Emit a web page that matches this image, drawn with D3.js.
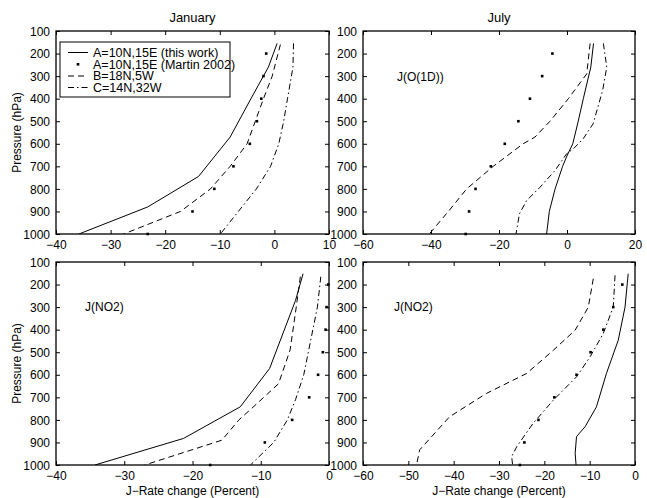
<!DOCTYPE html>
<html>
<head>
<meta charset="utf-8">
<script src="https://cdn.jsdelivr.net/npm/d3@7"></script>
<style>
  html, body { margin: 0; padding: 0; background: #fff; }
  svg { display: block; font-family: "Liberation Sans", Arial, Helvetica, sans-serif; }
</style>
</head>
<body>
<svg id="chart" width="647" height="498"></svg>
<script>
// ---------------- DATA ----------------
const seriesNames = ["A=10N,15E (this work)", "A=10N,15E (Martin 2002)", "B=18N,5W", "C=14N,32W"];
const dotPressure = [200, 300, 400, 500, 600, 700, 800, 900, 1000];
const yTicks = [100, 200, 300, 400, 500, 600, 700, 800, 900, 1000];

// January J(O1D)
const janO1D_A_p = [155, 260, 400, 570, 745, 880, 1000];
const janO1D_A_v = [0.5, -1.1, -4.3, -8.1, -13.9, -23.2, -35.8];
const janO1D_B_p = [160, 300, 400, 500, 600, 700, 800, 900, 1000];
const janO1D_B_v = [1.1, -0.4, -2.0, -3.5, -5.0, -8.1, -11.7, -17.2, -27.6];
const janO1D_C_p = [155, 260, 400, 500, 600, 700, 800, 900, 1000];
const janO1D_C_v = [3.5, 3.4, 2.4, 1.7, 0.8, -0.7, -3.3, -6.6, -9.9];
const janO1D_dots = [-1.5, -2.0, -2.4, -3.2, -4.5, -7.5, -11.0, -15.0, -23.2];

// July J(O1D)
const julO1D_A_p = [155, 260, 400, 500, 600, 650, 700, 800, 900, 1000];
const julO1D_A_v = [7.8, 7.0, 4.8, 3.3, 1.7, 0.1, -1.3, -3.5, -5.2, -6.0];
const julO1D_B_p = [155, 290, 400, 500, 570, 600, 700, 800, 900, 1000];
const julO1D_B_v = [6.8, 5.8, 0.4, -5.0, -9.4, -12.9, -21.7, -29.5, -34.9, -40.5];
const julO1D_C_p = [155, 260, 362, 511, 577, 622, 644, 718, 792, 852, 911, 1000];
const julO1D_C_v = [10.7, 11.7, 10.5, 7.7, 4.8, 1.9, -0.1, -3.5, -7.9, -11.9, -14.0, -15.0];
const julO1D_dots = [-4.3, -7.3, -10.9, -14.3, -18.3, -22.4, -26.9, -28.8, -29.8];

// January J(NO2)
const janNO2_A_p = [152, 270, 572, 742, 882, 1000];
const janNO2_A_v = [-3.8, -4.9, -8.7, -13.0, -21.3, -34.3];
const janNO2_B_p = [165, 300, 490, 640, 740, 800, 890, 1000];
const janNO2_B_v = [-4.2, -4.8, -5.7, -7.4, -11.0, -13.2, -15.7, -27.0];
const janNO2_C_p = [165, 300, 450, 600, 710, 800, 900, 985, 1000];
const janNO2_C_v = [-1.2, -1.7, -2.7, -3.7, -4.9, -6.1, -8.1, -11.0, -11.5];
const janNO2_dots = [-0.1, -0.35, -0.5, -0.9, -1.6, -2.9, -5.4, -9.4, -17.4];

// July J(NO2)
const julNO2_A_p = [152, 300, 447, 594, 742, 830, 874, 948, 1000];
const julNO2_A_v = [-1.5, -2.2, -3.7, -6.3, -8.5, -11.0, -12.9, -13.2, -13.0];
const julNO2_B_p = [174, 300, 402, 491, 594, 683, 786, 933, 1000];
const julNO2_B_v = [-9.2, -10.3, -13.2, -18.0, -23.9, -32.8, -40.9, -47.5, -48.2];
const julNO2_C_p = [159, 300, 417, 520, 609, 712, 816, 919, 963, 1000];
const julNO2_C_v = [-4.4, -4.8, -7.0, -9.9, -12.9, -18.0, -22.5, -26.1, -27.2, -27.0];
const julNO2_dots = [-2.8, -4.8, -7.0, -9.8, -12.9, -17.8, -21.3, -24.4, -25.4];

const xTicksJanO1D = [-40, -30, -20, -10, 0, 10];
const xTicksJulO1D = [-60, -40, -20, 0, 20];
const xTicksJanNO2 = [-40, -30, -20, -10, 0];
const xTicksJulNO2 = [-60, -50, -40, -30, -20, -10, 0];

// ---------------- LAYOUT ----------------
const svg = d3.select("#chart");
const FONT_TICK = 12;
const dashB = "6,4";
const dashC = "6,3,1.5,3";

const panels = [
  { x0: 56, x1: 329, y0: 31, y1: 234, xd: [-40, 10], xt: xTicksJanO1D, title: "January",
    A: [janO1D_A_p, janO1D_A_v], B: [janO1D_B_p, janO1D_B_v], C: [janO1D_C_p, janO1D_C_v], D: janO1D_dots,
    ylabel: true, legend: true },
  { x0: 363, x1: 635, y0: 31, y1: 234, xd: [-60, 20], xt: xTicksJulO1D, title: "July",
    A: [julO1D_A_p, julO1D_A_v], B: [julO1D_B_p, julO1D_B_v], C: [julO1D_C_p, julO1D_C_v], D: julO1D_dots,
    note: { text: "J(O(1D))", x: 397, y: 77 } },
  { x0: 56, x1: 329, y0: 262, y1: 465, xd: [-40, 0], xt: xTicksJanNO2,
    A: [janNO2_A_p, janNO2_A_v], B: [janNO2_B_p, janNO2_B_v], C: [janNO2_C_p, janNO2_C_v], D: janNO2_dots,
    ylabel: true, xlabel: true, note: { text: "J(NO2)", x: 85, y: 307 } },
  { x0: 363, x1: 635, y0: 262, y1: 465, xd: [-60, 0], xt: xTicksJulNO2,
    A: [julNO2_A_p, julNO2_A_v], B: [julNO2_B_p, julNO2_B_v], C: [julNO2_C_p, julNO2_C_v], D: julNO2_dots,
    xlabel: true, note: { text: "J(NO2)", x: 394, y: 307 } }
];

panels.forEach((P, i) => {
  const x = d3.scaleLinear().domain(P.xd).range([P.x0, P.x1]);
  const y = d3.scaleLinear().domain([100, 1000]).range([P.y0, P.y1]);
  const g = svg.append("g");
  const clipId = "clip" + i;
  svg.append("clipPath").attr("id", clipId).append("rect")
    .attr("x", P.x0).attr("y", P.y0).attr("width", P.x1 - P.x0).attr("height", P.y1 - P.y0);

  // axes (inward ticks on all sides)
  const tl = 4;
  const axB = d3.axisBottom(x).tickValues(P.xt).tickSizeInner(-tl).tickSizeOuter(0).tickPadding(6).tickFormat(d3.format("d"));
  const axT = d3.axisTop(x).tickValues(P.xt).tickSizeInner(-tl).tickSizeOuter(0).tickFormat("");
  const axL = d3.axisLeft(y).tickValues(yTicks).tickSizeInner(-tl).tickSizeOuter(0).tickPadding(6).tickFormat(d3.format("d"));
  const axR = d3.axisRight(y).tickValues(yTicks).tickSizeInner(-tl).tickSizeOuter(0).tickFormat("");

  const gb = g.append("g").attr("transform", `translate(0,${P.y1})`).call(axB);
  const gt = g.append("g").attr("transform", `translate(0,${P.y0})`).call(axT);
  const gl = g.append("g").attr("transform", `translate(${P.x0},0)`).call(axL);
  const gr = g.append("g").attr("transform", `translate(${P.x1},0)`).call(axR);
  [gb, gt, gl, gr].forEach(a => {
    a.select(".domain").remove();
    a.selectAll(".tick line").attr("stroke", "#000").attr("stroke-width", 1);
    a.selectAll("text").attr("fill", "#000").style("font-size", FONT_TICK + "px")
      .style("font-family", '"Liberation Sans", Arial, Helvetica, sans-serif');
  });
  gl.selectAll("text").attr("dy", "0.35em");

  // box
  g.append("rect").attr("x", P.x0).attr("y", P.y0).attr("width", P.x1 - P.x0).attr("height", P.y1 - P.y0)
    .attr("fill", "none").attr("stroke", "#000").attr("stroke-width", 1.3);

  const plot = g.append("g").attr("clip-path", `url(#${clipId})`);
  const mk = (pv) => pv[0].map((p, k) => [pv[1][k], p]);
  const line = d3.line().x(d => x(d[0])).y(d => y(d[1]));

  plot.append("path").datum(mk(P.C)).attr("d", line).attr("fill", "none").attr("stroke", "#000")
    .attr("stroke-width", 1).attr("stroke-dasharray", dashC);
  plot.append("path").datum(mk(P.B)).attr("d", line).attr("fill", "none").attr("stroke", "#000")
    .attr("stroke-width", 1).attr("stroke-dasharray", dashB);
  plot.append("path").datum(mk(P.A)).attr("d", line).attr("fill", "none").attr("stroke", "#000")
    .attr("stroke-width", 1);

  g.selectAll("rect.dot").data(P.D.map((v, k) => [v, dotPressure[k]])).join("rect")
    .attr("class", "dot")
    .attr("x", d => x(d[0]) - 1.3).attr("y", d => y(d[1]) - 1.3)
    .attr("width", 2.6).attr("height", 2.6).attr("fill", "#000");

  if (P.title) {
    g.append("text").attr("x", (P.x0 + P.x1) / 2).attr("y", 17).attr("dy", "0.35em")
      .attr("text-anchor", "middle").style("font-size", "13px").text(P.title);
  }
  if (P.ylabel) {
    g.append("text").attr("transform", `translate(17,${(P.y0 + P.y1) / 2}) rotate(-90)`)
      .attr("dy", "0.35em").attr("text-anchor", "middle").style("font-size", "12px").text("Pressure (hPa)");
  }
  if (P.xlabel) {
    g.append("text").attr("x", (P.x0 + P.x1) / 2).attr("y", 491).attr("dy", "0.35em")
      .attr("text-anchor", "middle").style("font-size", "12px").text("J\u2212Rate change (Percent)");
  }
  if (P.note) {
    g.append("text").attr("x", P.note.x).attr("y", P.note.y).attr("dy", "0.35em")
      .style("font-size", "12px").text(P.note.text);
  }
  if (P.legend) {
    const lg = g.append("g");
    lg.append("rect").attr("x", 60).attr("y", 42).attr("width", 170).attr("height", 55)
      .attr("fill", "#fff").attr("stroke", "#000").attr("stroke-width", 1);
    const rowsY = [52.5, 64.3, 76, 87.5];
    const styles = [
      { type: "line", dash: null },
      { type: "dot" },
      { type: "line", dash: dashB },
      { type: "line", dash: dashC }
    ];
    seriesNames.forEach((name, k) => {
      const st = styles[k];
      if (st.type === "line") {
        lg.append("line").attr("x1", 68).attr("x2", 88).attr("y1", rowsY[k]).attr("y2", rowsY[k])
          .attr("stroke", "#000").attr("stroke-width", 1).attr("stroke-dasharray", st.dash);
      } else {
        lg.append("rect").attr("x", 78 - 1.3).attr("y", rowsY[k] - 1.3).attr("width", 2.6).attr("height", 2.6).attr("fill", "#000");
      }
      lg.append("text").attr("x", 93).attr("y", rowsY[k]).attr("dy", "0.35em")
        .style("font-size", "12.5px").text(name);
    });
  }
});
</script>
</body>
</html>
